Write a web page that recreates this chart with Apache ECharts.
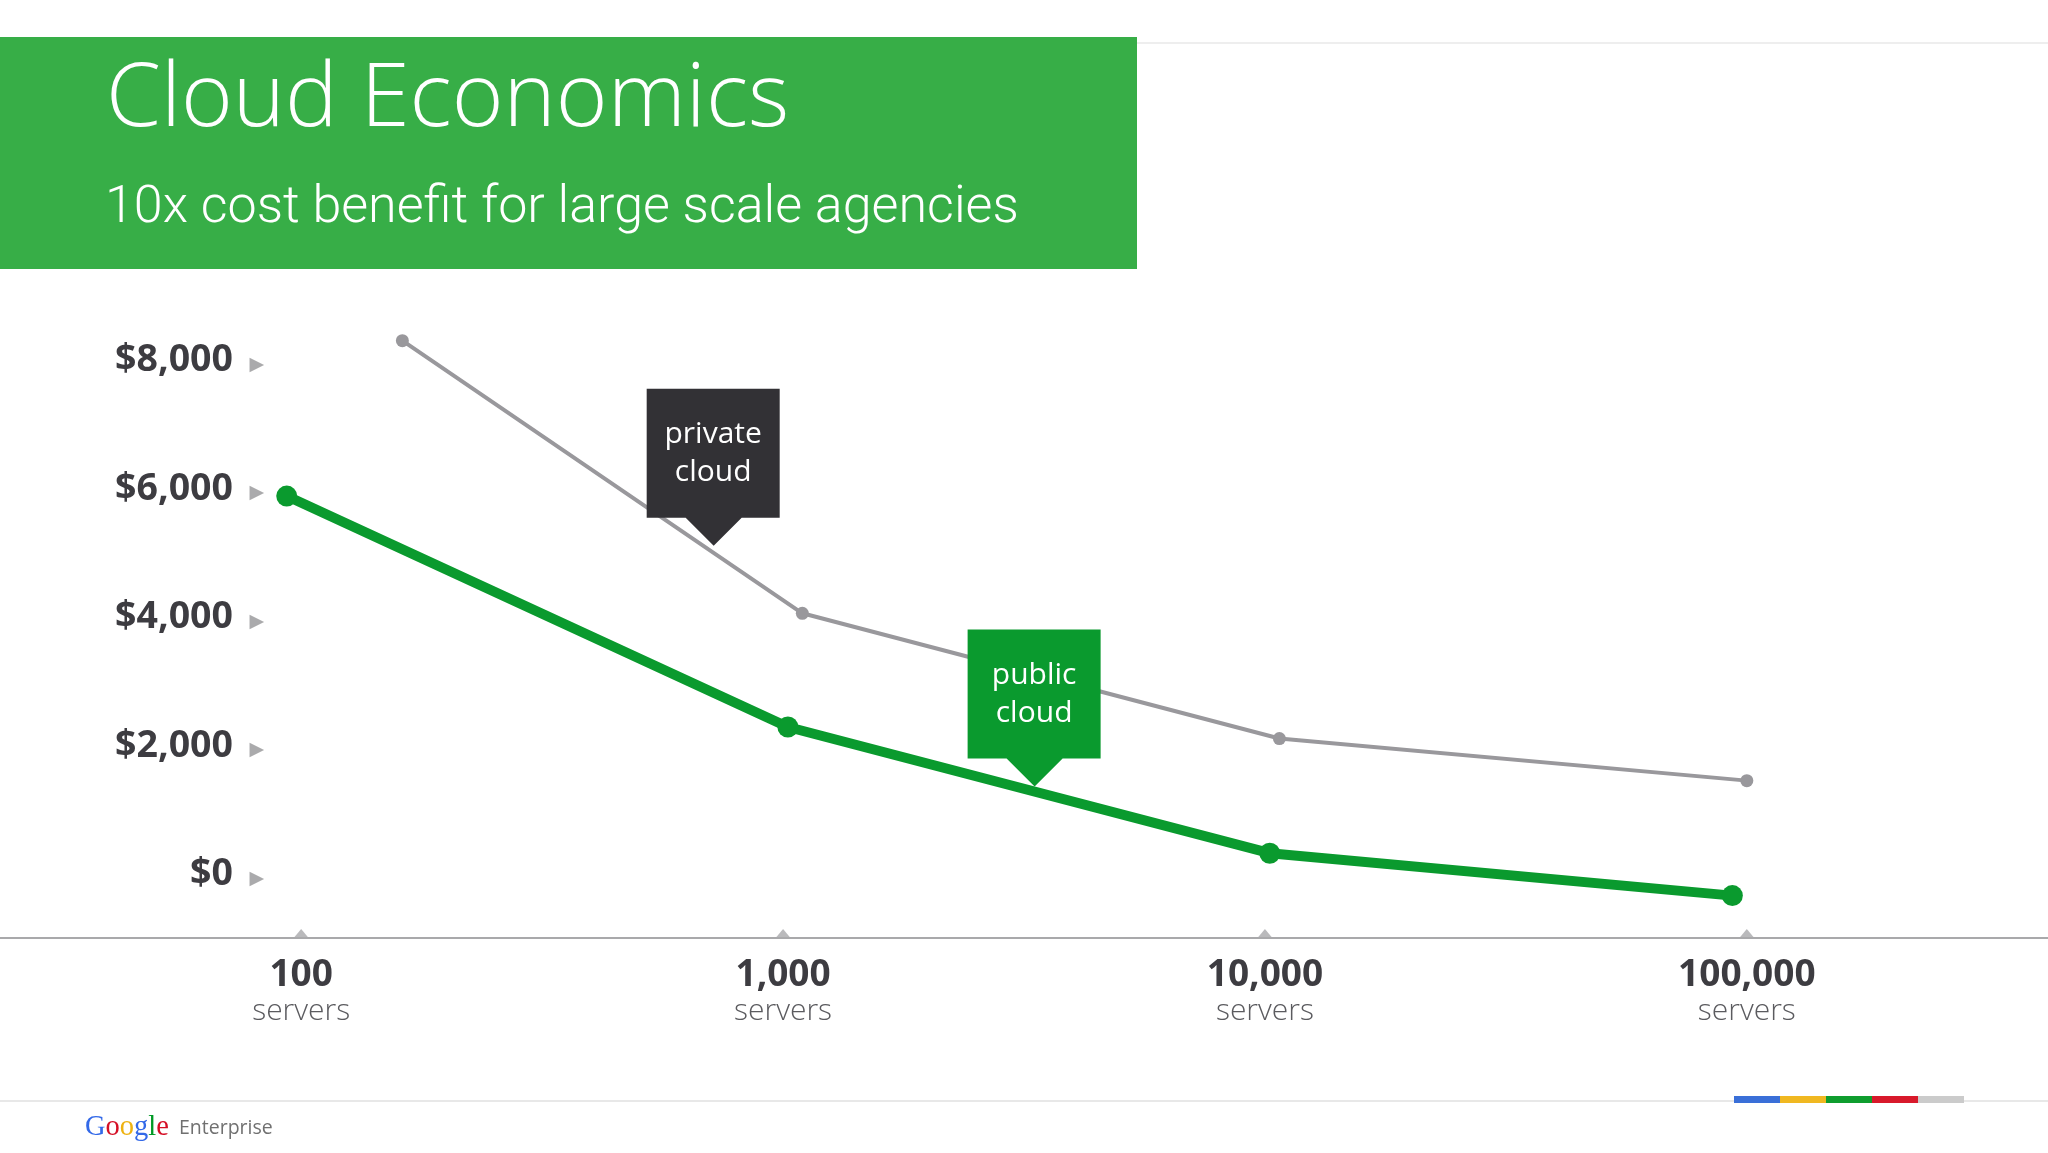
<!DOCTYPE html>
<html>
<head>
<meta charset="utf-8">
<script src="https://cdn.jsdelivr.net/npm/echarts@6/dist/echarts.min.js"></script>
<style>
html,body{margin:0;padding:0;background:#fff;}
#chart{width:2048px;height:1153px;}
</style>
</head>
<body>
<div id="chart"></div>
<script>
// ---- data ----
const titleText = 'Cloud Economics';
const subtitleText = '10x cost benefit for large scale agencies';
// x axis: decade position = log10(number of servers)
const decades = [2, 3, 4, 5];
const xTickLabels = ['100', '1,000', '10,000', '100,000'];
const xUnit = 'servers';
const yTickValues = [0, 2000, 4000, 6000, 8000];
const yTickLabels = ['$0', '$2,000', '$4,000', '$6,000', '$8,000'];
// public cloud (green, thick)
const publicX = [1.97, 3.01, 4.01, 4.97];
const publicCost = [5960, 2365, 400, -260];
// private cloud (grey, thin)
const privateX = [2.21, 3.04, 4.03, 5.00];
const privateCost = [8380, 4135, 2185, 1530];
// callout anchors (tip of the pointer) in data units
const privateCallout = { text: 'private\ncloud', x: 2.855, y: 5185 };
const publicCallout = { text: 'public\ncloud', x: 3.521, y: 1437 };
const footerColors = ['#3a6fd8', '#f0b821', '#0f9d2e', '#d8192b', '#cbcbcb'];

// ---- axis ranges ----
const xMin = 1.375, xMax = 5.625, xStep = 0.125;
const yMin = -920, yMax = 10040, yStep = 40;

const near = (v, t) => Math.abs(v - t) < 1e-6;

const chart = echarts.init(document.getElementById('chart'), null, { renderer: 'canvas' });

const calloutPath = 'path://M0,0L133,0L133,129L95,129L67,157L39,129L0,129Z';

function callout(c, color) {
  return {
    silent: true,
    animation: false,
    symbol: calloutPath,
    symbolSize: [133, 157],
    symbolOffset: [0, '-50%'],
    itemStyle: { color: color },
    label: {
      show: true,
      position: 'inside',
      offset: [0, -14],
      formatter: c.text,
      color: '#ffffff',
      fontFamily: 'Open Sans',
      fontSize: 30,
      lineHeight: 38
    },
    data: [{ coord: [c.x, c.y] }]
  };
}

const barX0 = 1734, barW = 46;
const graphics = [
  { type: 'rect', shape: { x: 0, y: 37, width: 1137, height: 232 }, style: { fill: '#37ae47' }, z: 0 },
  { type: 'rect', shape: { x: 1137, y: 42, width: 911, height: 2 }, style: { fill: '#eeeeee' }, z: 0 },
  { type: 'text', style: { text: titleText, x: 106, y: 101, font: '300 88.5px "Open Sans"', fill: '#ffffff', align: 'left', verticalAlign: 'middle' } },
  { type: 'text', style: { text: subtitleText, x: 105, y: 209, font: '300 52px Roboto', fill: '#ffffff', align: 'left', verticalAlign: 'middle' } },
  { type: 'rect', shape: { x: 0, y: 1100, width: 2048, height: 2 }, style: { fill: '#e8e8e8' }, z: 0 },
  { type: 'text', style: {
      text: '{b|G}{r|o}{y|o}{b|g}{g|l}{r|e}',
      x: 85, y: 1128, align: 'left', verticalAlign: 'middle',
      rich: {
        b: { fill: '#3369e8', font: '28.5px "Liberation Serif"' },
        r: { fill: '#d50f25', font: '28.5px "Liberation Serif"' },
        y: { fill: '#eeb211', font: '28.5px "Liberation Serif"' },
        g: { fill: '#009925', font: '28.5px "Liberation Serif"' }
      }
  } },
  { type: 'text', style: { text: 'Enterprise', x: 179, y: 1128, font: '19.5px "Open Sans"', fill: '#707070', align: 'left', verticalAlign: 'middle' } }
];
footerColors.forEach((c, i) => {
  graphics.push({ type: 'rect', shape: { x: barX0 + i * barW, y: 1096, width: barW, height: 7 }, style: { fill: c }, z: 1 });
});

const option = {
  backgroundColor: '#ffffff',
  animation: false,
  grid: { left: 0, right: 0, top: 234, bottom: 215, containLabel: false },
  xAxis: {
    type: 'value',
    min: xMin, max: xMax, interval: xStep,
    axisLine: { show: true, onZero: false, lineStyle: { color: '#a9a9ab', width: 2 } },
    axisTick: { show: false },
    splitLine: { show: false },
    axisLabel: {
      show: true,
      margin: 16,
      showMinLabel: false, showMaxLabel: false,
      formatter: function (v) {
        for (let i = 0; i < decades.length; i++) {
          if (near(v, decades[i])) return '{n|' + xTickLabels[i] + '}\n{s|' + xUnit + '}';
        }
        return '';
      },
      rich: {
        n: { fontFamily: 'Open Sans', fontWeight: 'bold', fontSize: 37, color: '#3d3c41', lineHeight: 42, align: 'center' },
        s: { fontFamily: 'Open Sans', fontWeight: 300, fontSize: 30, color: '#5b5b5f', lineHeight: 30, align: 'center' }
      }
    }
  },
  yAxis: [
    {
      type: 'value',
      min: yMin, max: yMax, interval: yStep,
      position: 'left',
      offset: -233,
      axisLine: { show: false },
      axisTick: { show: false },
      splitLine: { show: false },
      axisLabel: {
        margin: 0,
        verticalAlign: 'bottom',
        lineHeight: 9,
        fontFamily: 'Open Sans', fontWeight: 'bold', fontSize: 37.5, color: '#3d3c41',
        formatter: function (v) {
          for (let i = 0; i < yTickValues.length; i++) {
            if (near(v, yTickValues[i])) return yTickLabels[i];
          }
          return '';
        }
      }
    },
    {
      type: 'value',
      min: yMin, max: yMax, interval: yStep,
      position: 'left',
      offset: -264,
      axisLine: { show: false },
      axisTick: { show: false },
      splitLine: { show: false },
      axisLabel: {
        margin: 0,
        fontFamily: 'DejaVu Sans', fontSize: 19, color: '#aaaaac',
        formatter: function (v) {
          for (let i = 0; i < yTickValues.length; i++) {
            if (near(v, yTickValues[i])) return '\u25B6';
          }
          return '';
        }
      }
    }
  ],
  series: [
    {
      name: 'x ticks',
      type: 'scatter',
      silent: true,
      clip: false,
      symbol: 'triangle',
      symbolSize: [15, 9],
      symbolOffset: [0, -4.5],
      itemStyle: { color: '#a9a9ab' },
      data: decades.map(d => [d, yMin]),
      z: 1
    },
    {
      name: 'private cloud',
      type: 'line',
      data: privateX.map((x, i) => [x, privateCost[i]]),
      symbol: 'circle',
      symbolSize: 13,
      showSymbol: true,
      lineStyle: { color: '#99989c', width: 4 },
      itemStyle: { color: '#99989c' },
      silent: true,
      z: 2,
      markPoint: callout(privateCallout, '#323135')
    },
    {
      name: 'public cloud',
      type: 'line',
      data: publicX.map((x, i) => [x, publicCost[i]]),
      symbol: 'circle',
      symbolSize: 21,
      showSymbol: true,
      lineStyle: { color: '#0a9a2e', width: 10 },
      itemStyle: { color: '#0a9a2e' },
      silent: true,
      z: 3,
      markPoint: callout(publicCallout, '#0a9a2e')
    }
  ],
  graphic: graphics
};

chart.setOption(option);
</script>
</body>
</html>
